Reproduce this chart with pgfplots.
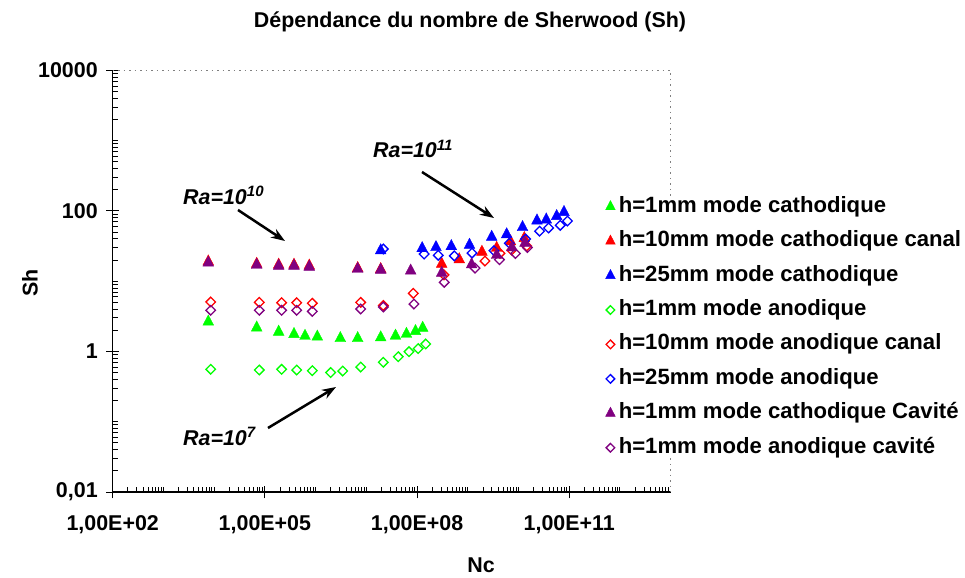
\documentclass[border=0pt]{standalone}
\usepackage{fontspec}
\setmainfont{Liberation Sans}
\usepackage{pgfplots}
\pgfplotsset{compat=1.18}
\usetikzlibrary{arrows.meta}
\definecolor{cgreen}{RGB}{0,255,0}
\definecolor{cred}{RGB}{255,0,0}
\definecolor{cblue}{RGB}{0,0,255}
\definecolor{cpurple}{RGB}{128,0,128}
\gdef\xminor{1e3}
\foreach \e in {2,...,12}{\foreach \m in {2,...,9}{\xdef\xminor{\xminor,\m e\e}}}
\foreach \e in {4,6,7,9,10,12}{\xdef\xminor{\xminor,1e\e}}
\gdef\yminor{1e-1}
\foreach \e in {-2,...,3}{\foreach \m in {2,...,9}{\xdef\yminor{\yminor,\m e\e}}}
\foreach \e in {1,3}{\xdef\yminor{\yminor,1e\e}}
\pgfplotsset{
  tri/.style={only marks, mark=triangle*, mark size=6.2bp, color=#1, mark options={fill=#1, draw=#1, yscale=1.1}},
  dia/.style={only marks, mark=square, mark size=3.4bp, color=#1, mark options={rotate=45, draw=#1, fill=white, line width=1.3bp}},
}
\begin{document}
\begin{tikzpicture}[font=\bfseries\fontsize{21.5}{25}\selectfont]
\path[use as bounding box] (0bp,0bp) rectangle (965bp,578bp);
\begin{axis}[
  at={(112.7bp,86bp)}, anchor=south west,
  width=558bp, height=421.5bp, scale only axis,
  xmode=log, ymode=log,
  xmin=1e2, xmax=1e13, ymin=1e-2, ymax=1e4,
  axis x line*=bottom, axis y line*=left,
  axis line style={line width=1.2bp, black, -},
  xtick={1e2,1e5,1e8,1e11},
  xticklabels={{1,00E+02},{1,00E+05},{1,00E+08},{1,00E+11}},
  ytick={1e-2,1,1e2,1e4},
  yticklabels={{0,01},1,100,10000},
  xticklabel style={yshift=-14bp},
  yticklabel style={xshift=-5bp},
  minor xtick/.expand once=\xminor,
  minor ytick/.expand once=\yminor,
  tick align=center,
  major tick length=13bp, minor tick length=5bp,
  every tick/.style={black, line width=1bp},
  every minor x tick/.append style={yshift=2.5bp},
  every minor y tick/.append style={xshift=2.5bp},
  legend cell align=left,
  legend style={at={(axis description cs:0.883,0.701)}, anchor=north west,
    draw=none, fill=white, inner sep=0pt, column sep=3.5bp, row sep=14.43bp,
    nodes={inner sep=0pt, text height=15.5bp, text depth=4.5bp},
    font=\bfseries\fontsize{22.2}{25}\selectfont},
  legend image post style={scale=0.9},
  clip=false,
]
% h=1mm mode cathodique
\addplot[tri=cgreen] coordinates {
(7.66e3,2.65) (6.90e4,2.18) (1.87e5,1.90) (3.75e5,1.76) (6.18e5,1.66) (1.08e6,1.62)
(3.07e6,1.54) (6.75e6,1.54) (1.92e7,1.58) (3.76e7,1.67) (6.18e7,1.77) (9.31e7,1.94) (1.29e8,2.16)};
\addlegendentry{h=1mm mode cathodique}
% h=10mm mode cathodique canal
\addplot[tri=cred] coordinates {
(7.66e3,19.0) (6.90e4,17.6) (1.87e5,17.1) (3.75e5,17.1) (7.50e5,16.6) (6.75e6,15.3) (1.92e7,14.8)
(3.06e8,17.6) (6.79e8,20.4) (1.90e9,26.1) (3.71e9,29.7) (6.94e9,36.8) (1.30e10,40.9)};
\addlegendentry{h=10mm mode cathodique canal}
% h=25mm mode cathodique
\addplot[tri=cblue] coordinates {
(1.92e7,27.4) (1.26e8,29.4) (2.36e8,30.4) (4.73e8,31.4) (1.08e9,32.8) (2.96e9,42.6)
(5.84e9,46.3) (1.20e10,58.6) (2.31e10,72.8) (3.52e10,75.2) (5.65e10,84.1) (7.87e10,96.1)};
\addlegendentry{h=25mm mode cathodique}
% h=1mm mode anodique
\addplot[dia=cgreen] coordinates {
(8.55e3,0.558) (7.76e4,0.545) (2.14e5,0.558) (4.24e5,0.545) (8.61e5,0.533) (1.98e6,0.502)
(3.42e6,0.527) (7.74e6,0.601) (2.16e7,0.702) (4.26e7,0.843) (6.93e7,0.993) (1.05e8,1.10) (1.48e8,1.28)};
\addlegendentry{h=1mm mode anodique}
% h=10mm mode anodique canal
\addplot[dia=cred] coordinates {
(8.55e3,5.07) (7.76e4,5.01) (2.14e5,4.95) (4.24e5,4.95) (8.61e5,4.86) (7.74e6,5.01) (2.16e7,4.52)
(8.42e7,6.73) (3.40e8,12.3) (2.18e9,19.4) (4.31e9,25.0) (7.33e9,27.8) (1.45e10,31.7)};
\addlegendentry{h=10mm mode anodique canal}
% h=25mm mode anodique
\addplot[dia=cblue] coordinates {
(2.16e7,28.8) (1.38e8,24.4) (2.62e8,23.4) (5.42e8,23.0) (1.21e9,25.2) (3.28e9,27.2)
(6.58e9,34.7) (1.38e10,39.9) (2.60e10,51.6) (3.92e10,57.3) (6.65e10,62.6) (9.23e10,72.0)};
\addlegendentry{h=25mm mode anodique}
% h=1mm mode cathodique Cavite
\addplot[tri=cpurple] coordinates {
(7.66e3,18.3) (6.90e4,17.0) (1.87e5,16.5) (3.75e5,16.5) (7.50e5,16.0) (6.75e6,14.9) (1.92e7,14.5)
(7.48e7,14.1) (3.06e8,13.1) (1.19e9,17.3) (3.71e9,23.6) (7.43e9,30.2) (1.34e10,35.0)};
\addlegendentry{h=1mm mode cathodique Cavité}
% h=1mm mode anodique cavite
\addplot[dia=cpurple] coordinates {
(8.55e3,3.86) (7.76e4,3.86) (2.14e5,3.86) (4.24e5,3.86) (8.61e5,3.73) (7.74e6,4.03) (2.16e7,4.30)
(8.69e7,4.74) (3.43e8,9.66) (1.39e9,15.4) (4.21e9,20.3) (8.71e9,24.8) (1.50e10,30.2)};
\addlegendentry{h=1mm mode anodique cavité}
\draw[gray, line width=1.3bp, dash pattern=on 1.5bp off 4bp] (rel axis cs:0,1) -- (rel axis cs:1,1) -- (rel axis cs:1,0);
\end{axis}
\begin{scope}[x=1bp,y=1bp]
\node at (470,556) {Dépendance du nombre de Sherwood (Sh)};
\node[rotate=90] at (30,295) {Sh};
\node at (481,13) {Nc};
\node[anchor=base west, inner sep=0pt, font=\bfseries\itshape\fontsize{21.5}{25}\selectfont] at (183,374) {Ra=10\textsuperscript{10}};
\node[anchor=base west, inner sep=0pt, font=\bfseries\itshape\fontsize{21.5}{25}\selectfont] at (373,420) {Ra=10\textsuperscript{11}};
\node[anchor=base west, inner sep=0pt, font=\bfseries\itshape\fontsize{21.5}{25}\selectfont] at (183,133) {Ra=10\textsuperscript{7}};
\draw[line width=2.5bp, -{Stealth[length=14bp,width=10bp]}] (238,368) -- (285,337);
\draw[line width=2.5bp, -{Stealth[length=14bp,width=10bp]}] (422,406) -- (494,360);
\draw[line width=2.5bp, -{Stealth[length=14bp,width=10bp]}] (268,150) -- (336,191);
\end{scope}
\end{tikzpicture}
\end{document}
